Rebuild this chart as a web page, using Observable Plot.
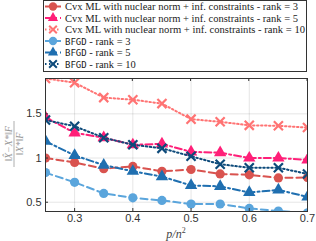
<!DOCTYPE html>
<html><head><meta charset="utf-8">
<script src="https://cdn.jsdelivr.net/npm/d3@7"></script>
<script src="https://cdn.jsdelivr.net/npm/@observablehq/plot@0.6"></script>
<style>
body{margin:0;background:#fff;width:316px;height:241px;overflow:hidden}
svg{display:block}
</style></head><body>
<div id="chart"></div>
<script>
const pValues = [0.25,0.3,0.35,0.4,0.45,0.5,0.55,0.6,0.65,0.7];
const cvxRank3  = [1.0,0.95,0.88,0.905,0.85,0.87,0.82,0.81,0.775,0.78];
const cvxRank5  = [1.46,1.285,1.23,1.15,1.16,1.07,1.06,1.0,1.0,0.98];
const cvxRank10 = [1.90,1.853,1.684,1.66,1.616,1.44,1.41,1.37,1.365,1.345];
const bfgdRank3  = [0.835,0.725,0.6,0.55,0.52,0.48,0.48,0.43,0.40,0.38];
const bfgdRank5  = [1.19,1.03,0.92,0.85,0.79,0.69,0.68,0.61,0.64,0.56];
const bfgdRank10 = [1.43,1.36,1.23,1.15,1.11,1.02,0.93,0.89,0.89,0.82];
const seriesNames = [
  "Cvx ML with nuclear norm + inf. constraints - rank = 3",
  "Cvx ML with nuclear norm + inf. constraints - rank = 5",
  "Cvx ML with nuclear norm + inf. constraints - rank = 10",
  "BFGD - rank = 3","BFGD - rank = 5","BFGD - rank = 10"
];
const xTicks = [0.3,0.4,0.5,0.6,0.7];
const yTicks = [0.5,1,1.5];

const styles = [
  {color:"#d9534f", symbol:"circle", dash:"7,4"},
  {color:"#ff1f78", symbol:"triangle", dash:"7,3,2,3"},
  {color:"#ff7373", symbol:"times", dash:"1.5,2.5"},
  {color:"#5aa5dc", symbol:"circle", dash:"7,4"},
  {color:"#1f6fb0", symbol:"triangle", dash:"7,3,2,3"},
  {color:"#0d4a7a", symbol:"times", dash:"1.5,2.5"}
];
const allValues = [cvxRank3,cvxRank5,cvxRank10,bfgdRank3,bfgdRank5,bfgdRank10];
const series = allValues.map((vals,i)=>pValues.map((p,j)=>({p, v: vals[j], s: seriesNames[i]})));

// Legend (SVG, above the plot)
const leg = d3.select("#chart").append("svg").attr("width",316).attr("height",74);
leg.append("rect").attr("x",43.5).attr("y",0.5).attr("width",263).attr("height",71).attr("fill","#fff").attr("stroke","#333").attr("stroke-width",1);
const rowY = [6.5,18,29.5,41,52.5,64];
seriesNames.forEach((name,i)=>{
  const st = styles[i], y = rowY[i];
  leg.append("line").attr("x1",45).attr("x2",61).attr("y1",y).attr("y2",y)
    .attr("stroke",st.color).attr("stroke-width",2).attr("stroke-dasharray",st.dash);
  const symType = st.symbol==="circle"?d3.symbolCircle:st.symbol==="triangle"?d3.symbolTriangle:d3.symbolTimes;
  const path = leg.append("path").attr("transform",`translate(53,${y})`)
    .attr("d", d3.symbol(symType, st.symbol==="times"?40:st.symbol==="triangle"?45:55)());
  if (st.symbol==="times") path.attr("fill","none").attr("stroke",st.color).attr("stroke-width",2);
  else path.attr("fill",st.color);
  const t = leg.append("text").attr("x",65).attr("y",y+3.5).attr("fill","#222").attr("font-size",10.5);
  if (i<3) {
    t.attr("font-family","'Liberation Serif','DejaVu Serif',serif").text(name)
     .attr("textLength", i===2?240:233).attr("lengthAdjust","spacingAndGlyphs");
  } else {
    t.attr("font-family","'Liberation Serif',serif");
    t.append("tspan").attr("font-family","'DejaVu Sans Mono',monospace").attr("font-size",9).text("BFGD");
    t.append("tspan").text(name.slice(4));
  }
});

const marks = [
  Plot.gridX(xTicks, {stroke:"#000", strokeOpacity:0.1}),
  Plot.gridY(yTicks, {stroke:"#000", strokeOpacity:0.1}),
];
series.forEach((data,i)=>{
  const st = styles[i];
  marks.push(Plot.line(data,{x:"p",y:"v",stroke:st.color,strokeWidth:2,strokeDasharray:st.dash,clip:true}));
  if (st.symbol==="times")
    marks.push(Plot.dot(data,{x:"p",y:"v",symbol:"times",stroke:st.color,strokeWidth:2.2,r:4.2,clip:true}));
  else
    marks.push(Plot.dot(data,{x:"p",y:"v",symbol:st.symbol,fill:st.color,r:4.6,clip:true}));
});
marks.push(Plot.frame({stroke:"#333"}));
marks.push(Plot.axisX(xTicks,{tickSize:-3, tickPadding:6, tickFormat:d3.format(".1f"), fontSize:11, color:"#333", label:null}));
marks.push(Plot.axisY(yTicks,{tickSize:-3, tickPadding:7, tickFormat:d=>String(d), fontSize:11, color:"#333", label:null}));

const chart = Plot.plot({
  width:316, height:167,
  marginTop:4, marginBottom:30, marginLeft:45, marginRight:9,
  style:{fontFamily:"'Liberation Sans',Arial,sans-serif", background:"#fff"},
  x:{domain:[0.25,0.7]},
  y:{domain:[0.395,1.9]},
  marks
});
document.getElementById("chart").appendChild(chart);

const svg = d3.select(chart);
// top inward ticks
svg.append("g").selectAll("line").data(xTicks).join("line")
  .attr("x1",d=>45+(d-0.25)/0.45*262).attr("x2",d=>45+(d-0.25)/0.45*262)
  .attr("y1",4).attr("y2",7).attr("stroke","#333");
// x label
const xl = svg.append("text").attr("x",176).attr("y",164).attr("text-anchor","middle")
  .attr("font-family","'Liberation Serif',serif").attr("font-style","italic").attr("font-size",12).attr("fill","#444");
xl.append("tspan").text("p/n");
xl.append("tspan").attr("dy",-5).attr("font-size",8).attr("font-style","normal").text("2");
// y label fraction
const yl = svg.append("g").attr("transform","translate(14,70) rotate(-90)").attr("fill","#999")
  .attr("font-family","'Liberation Serif',serif").attr("font-size",10);
yl.append("text").attr("x",0).attr("y",-2.5).attr("text-anchor","middle").attr("font-style","italic").text("‖X̂−X*‖F");
yl.append("line").attr("x1",-23).attr("x2",23).attr("y1",0).attr("y2",0).attr("stroke","#999").attr("stroke-width",0.8);
yl.append("text").attr("x",0).attr("y",9).attr("text-anchor","middle").attr("font-style","italic").text("‖X*‖F");
</script>
</body></html>
